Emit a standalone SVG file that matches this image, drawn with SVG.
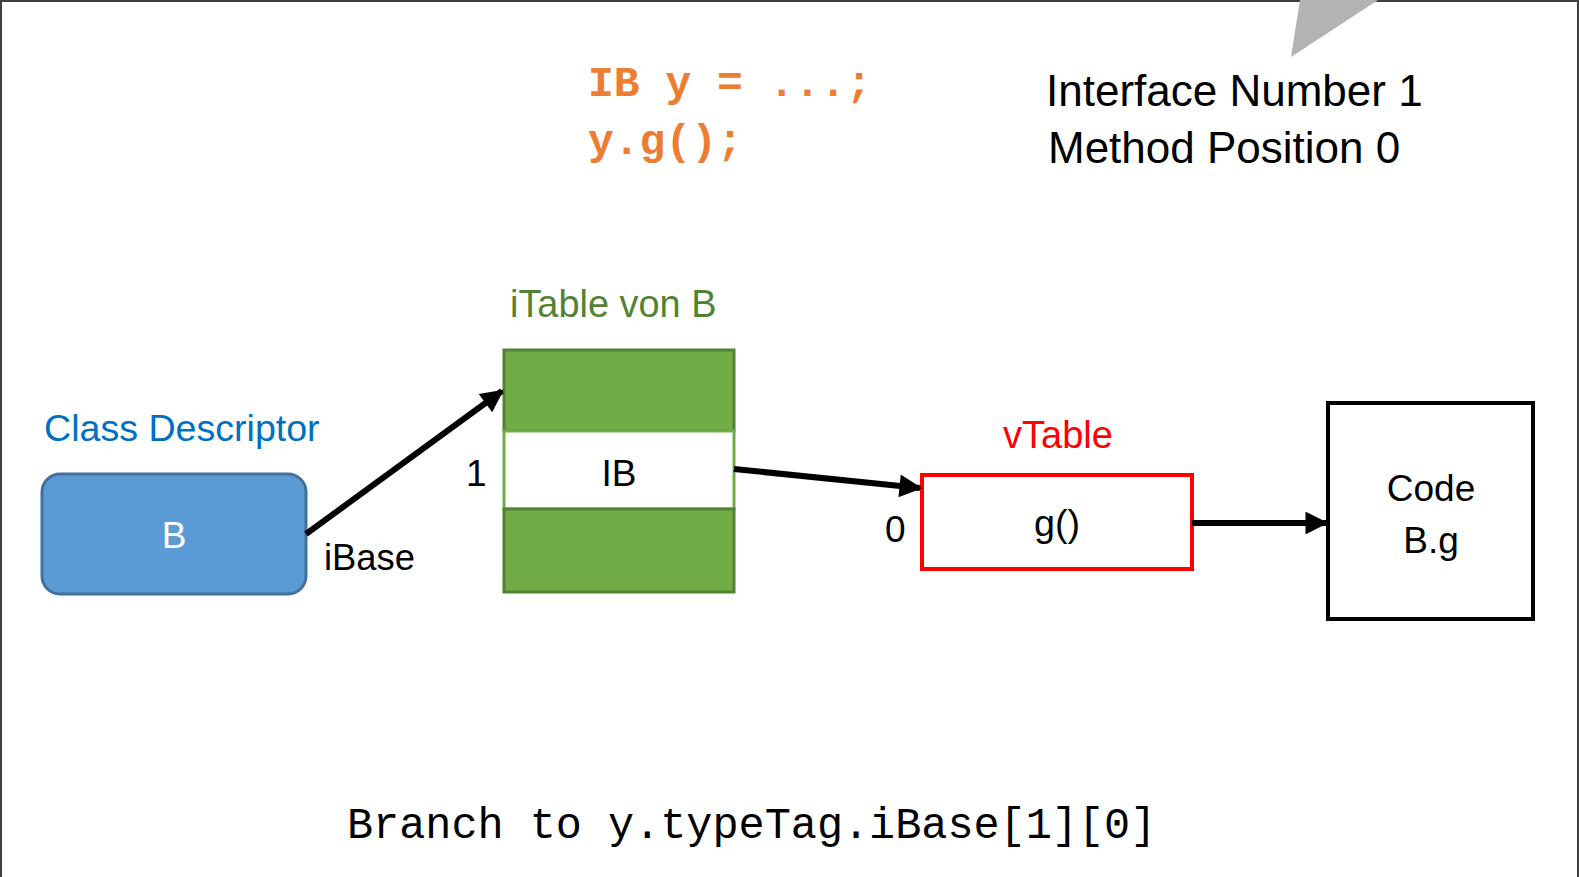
<svg xmlns="http://www.w3.org/2000/svg" width="1579" height="877" viewBox="0 0 1579 877">
  <defs>
    <style>
      .t { font-family: "Liberation Sans", Arial, sans-serif; font-size: 37px; fill: #000; }
      .big { font-size: 44px; }
      .mono { font-family: "Liberation Mono", "Courier New", monospace; }
      .code { font-size: 43px; font-weight: bold; fill: #ED7D31; }
      .conn { stroke: #000; stroke-width: 6; fill: none; marker-end: url(#ah); }
    </style>
    <marker id="ah" viewBox="0 0 10 10" refX="9" refY="5" markerWidth="4.2" markerHeight="3.8" orient="auto" markerUnits="strokeWidth">
      <path d="M0,0 L10,5 L0,10 z" fill="#000"/>
    </marker>
  </defs>
  <rect x="0" y="0" width="1579" height="877" fill="#fff"/>
  <path d="M1,877 V1 H1578 V877" fill="none" stroke="#404040" stroke-width="2"/>
  <polygon points="1300,0 1378,0 1291,57" fill="#b3b3b3"/>

  <g id="code-snippet">
    <text class="mono code" x="588" y="96">IB y = ...;</text>
    <text class="mono code" x="588" y="154">y.g();</text>
  </g>
  <g id="info">
    <text class="t big" x="1046" y="106">Interface Number 1</text>
    <text class="t big" x="1048" y="163">Method Position 0</text>
  </g>

  <g id="class-descriptor">
    <text class="t" x="44" y="441" style="fill:#0070C0;font-size:37.6px">Class Descriptor</text>
    <rect x="42" y="474" width="264" height="120" rx="18" fill="#5B9BD5" stroke="#41719C" stroke-width="3"/>
    <text class="t" x="174" y="548" text-anchor="middle" style="fill:#fff">B</text>
    <text class="t" x="324" y="570" style="font-size:36.4px">iBase</text>
  </g>

  <g id="itable">
    <text class="t" x="510" y="317" style="fill:#548235;font-size:37.9px">iTable von B</text>
    <rect x="504" y="350" width="230" height="81" fill="#70AD47" stroke="#548235" stroke-width="3"/>
    <rect x="504" y="431" width="230" height="78" fill="#fff" stroke="#70AD47" stroke-width="3"/>
    <rect x="504" y="509" width="230" height="83" fill="#70AD47" stroke="#548235" stroke-width="3"/>
    <text class="t" x="619" y="486" text-anchor="middle">IB</text>
    <text class="t" x="466" y="486">1</text>
  </g>

  <g id="vtable">
    <text class="t" x="1058" y="448" text-anchor="middle" style="fill:#FF0000;font-size:38px">vTable</text>
    <rect x="922" y="475" width="270" height="94" fill="#fff" stroke="#FF0000" stroke-width="4"/>
    <text class="t" x="1057" y="536" text-anchor="middle" style="font-size:37.7px">g()</text>
    <text class="t" x="885" y="542">0</text>
  </g>

  <g id="code-box">
    <rect x="1328" y="403" width="205" height="216" fill="#fff" stroke="#000" stroke-width="4"/>
    <text class="t" x="1431" y="501" text-anchor="middle">Code</text>
    <text class="t" x="1431" y="553" text-anchor="middle">B.g</text>
  </g>

  <g id="connectors">
    <line class="conn" x1="306" y1="534" x2="502" y2="391"/>
    <line class="conn" x1="734" y1="469" x2="920" y2="488"/>
    <line class="conn" x1="1192" y1="523" x2="1326" y2="523"/>
  </g>

  <g id="footer">
    <text class="mono" x="347" y="838" style="font-size:43.5px;fill:#000">Branch to y.typeTag.iBase[1][0]</text>
  </g>
</svg>
